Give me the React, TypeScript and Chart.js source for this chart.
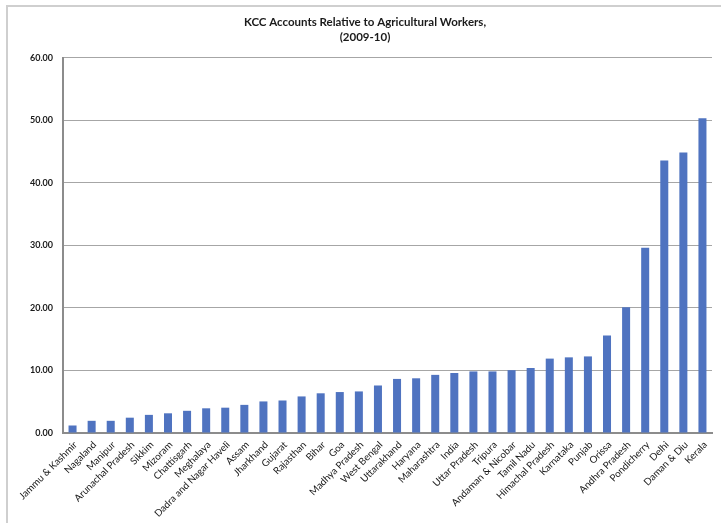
import React, { useEffect, useRef } from "react";
import { Chart, registerables } from "chart.js";

Chart.register(...registerables);

const titleLines = ["KCC Accounts Relative to Agricultural Workers,", "(2009-10)"];

const states = [
  "Jammu & Kashmir", "Nagaland", "Manipur", "Arunachal Pradesh", "Sikkim", "Mizoram",
  "Chattisgarh", "Meghalaya", "Dadra and Nagar Haveli", "Assam", "Jharkhand", "Gujarat",
  "Rajasthan", "Bihar", "Goa", "Madhya Pradesh", "West Bengal", "Uttarakhand", "Haryana",
  "Maharashtra", "India", "Uttar Pradesh", "Tripura", "Andaman & Nicobar", "Tamil Nadu",
  "Himachal Pradesh", "Karnataka", "Punjab", "Orissa", "Andhra Pradesh", "Pondicherry",
  "Delhi", "Daman & Diu", "Kerala",
];

const accountsRatio = [
  1.2, 1.95, 1.95, 2.45, 2.9, 3.15, 3.55, 3.95, 4.05, 4.5, 5.05, 5.2, 5.85, 6.35, 6.55,
  6.65, 7.6, 8.65, 8.75, 9.3, 9.6, 9.85, 9.85, 10.05, 10.4, 11.9, 12.1, 12.25, 15.6,
  20.1, 29.65, 43.6, 44.85, 50.35,
];

const yTicks = [0, 10, 20, 30, 40, 50, 60];

export default function App() {
  const ref = useRef<HTMLCanvasElement | null>(null);

  useEffect(() => {
    if (!ref.current) return;
    const chart = new Chart(ref.current, {
      type: "bar",
      data: {
        labels: states,
        datasets: [
          {
            data: accountsRatio,
            backgroundColor: "#4f73c0",
            borderWidth: 0,
            categoryPercentage: 1,
            barPercentage: 0.42,
          },
        ],
      },
      options: {
        animation: false,
        responsive: false,
        layout: { padding: { top: 10, right: 9, left: 18, bottom: 0 } },
        plugins: {
          legend: { display: false },
          tooltip: { enabled: false },
          title: {
            display: true,
            text: titleLines,
            color: "#1a1a1a",
            font: { family: "Lato, 'Open Sans', sans-serif", size: 11.5, weight: "bold", lineHeight: 1.3 },
            padding: { top: 5, bottom: 13 },
          },
        },
        scales: {
          x: {
            grid: { display: false, drawTicks: false },
            border: { display: true, color: "#8c8c8c", width: 2 },
            ticks: {
              autoSkip: false,
              minRotation: 45,
              maxRotation: 45,
              padding: 6,
              labelOffset: 3,
              color: "#1a1a1a",
              font: { family: "Lato, 'Open Sans', sans-serif", size: 9.8 },
            },
            afterFit: (s: any) => {
              s.height = 90;
            },
          },
          y: {
            min: 0,
            max: 60,
            afterBuildTicks: (s: any) => {
              s.ticks = yTicks.map((v) => ({ value: v }));
            },
            grid: { color: "#a6a6a6", lineWidth: 1, drawTicks: false },
            border: { display: true, color: "#8c8c8c", width: 2 },
            ticks: {
              padding: 10,
              color: "#1a1a1a",
              font: { family: "Lato, 'Open Sans', sans-serif", size: 9, weight: "bold" },
              callback: (v: any) => Number(v).toFixed(2),
            },
            afterFit: (s: any) => {
              s.width = 45;
            },
          },
        },
      },
    });
    return () => chart.destroy();
  }, []);

  return (
    <div style={{ position: "fixed", left: 0, top: 0, width: 721, height: 523, background: "#fff" }}>
      <div
        style={{
          position: "absolute",
          left: 6,
          top: 5,
          width: 721,
          height: 530,
          borderTop: "2px solid #cfcfcf",
          borderLeft: "2px solid #cfcfcf",
        }}
      />
      <canvas ref={ref} width={721} height={523} style={{ position: "absolute", left: 0, top: 0 }} />
    </div>
  );
}
